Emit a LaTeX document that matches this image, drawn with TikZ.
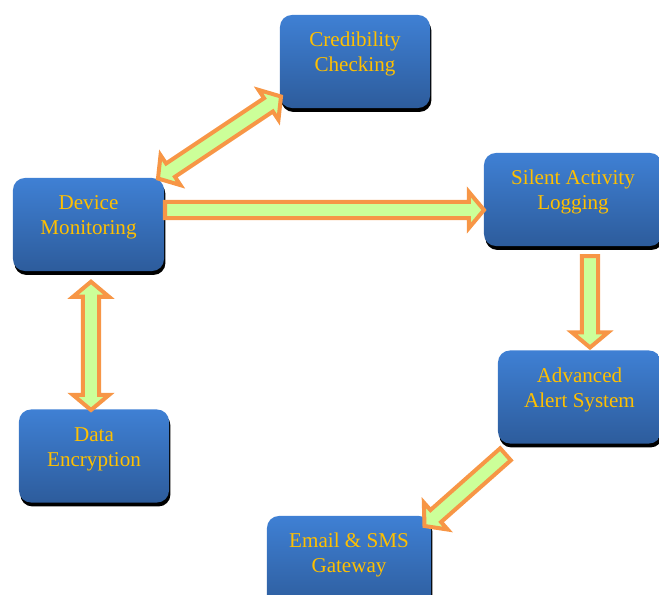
\documentclass[tikz,border=0pt]{standalone}
\usepackage{fontspec}
\setmainfont{Liberation Serif}
\usepackage{xcolor}
\usetikzlibrary{calc, shadows}

\definecolor{boxtop}{HTML}{3F80D4}
\definecolor{boxbot}{HTML}{2D5C9C}
\definecolor{txtgold}{HTML}{FFC000}
\definecolor{arrorange}{HTML}{F79646}
\definecolor{arrgreen}{HTML}{CCFF99}

% block arrow, one head (from #1 to #2)
\newcommand{\fatarrow}[2]{%
  \coordinate (hb) at ($(#2)!10.7pt!(#1)$);
  \draw[fatarr] ($(#1)!5.7pt!90:(#2)$) -- ($(hb)!5.7pt!90:(#2)$) -- ($(hb)!12.8pt!90:(#2)$)
    -- (#2) -- ($(hb)!12.8pt!-90:(#2)$) -- ($(hb)!5.7pt!-90:(#2)$) -- ($(#1)!5.7pt!-90:(#2)$) -- cycle;}
% block arrow, two heads
\newcommand{\fatdarrow}[2]{%
  \coordinate (ha) at ($(#1)!10.7pt!(#2)$);
  \coordinate (hb) at ($(#2)!10.7pt!(#1)$);
  \draw[fatarr] (#1) -- ($(ha)!12.8pt!90:(#2)$) -- ($(ha)!5.7pt!90:(#2)$) -- ($(hb)!5.7pt!90:(#2)$)
    -- ($(hb)!12.8pt!90:(#2)$) -- (#2) -- ($(hb)!12.8pt!-90:(#2)$) -- ($(hb)!5.7pt!-90:(#2)$)
    -- ($(ha)!5.7pt!-90:(#2)$) -- ($(ha)!12.8pt!-90:(#2)$) -- cycle;}

\begin{document}
\begin{tikzpicture}[
  x=0.025cm, y=-0.025cm,
  box/.style={rounded corners=8.5pt, minimum height=2.325cm, top color=boxtop, bottom color=boxbot,
              drop shadow={shadow xshift=1pt, shadow yshift=-2.8pt, fill=black, opacity=1},
              text=txtgold, align=center, font=\fontsize{15pt}{17.8pt}\selectfont,
              text height=25pt, text depth=10.1pt},
  fatarr/.style={draw=arrorange, fill=arrgreen, line width=2.85pt, line join=miter},
]
  \useasboundingbox (0,0) rectangle (659,594);
  % Boxes
  \node[box, minimum width=3.75cm]  (cred)  at (355,61.5)  {Credibility\\Checking};
  \node[box, minimum width=3.775cm] (dev)   at (88.5,224.5) {Device\\Monitoring};
  \node[box, minimum width=4.45cm]  (sil)   at (573,199.5) {Silent Activity\\Logging};
  \node[box, minimum width=4.075cm] (adv)   at (579.5,397) {Advanced\\Alert System};
  \node[box, minimum width=3.75cm]  (data)  at (94,456)    {Data\\Encryption};
  \node[box, minimum width=4.1cm]   (email) at (349,562.5) {Email \& SMS\\Gateway};
  % Arrow ends
  \coordinate (devne)  at (158,178.5);
  \coordinate (credsw) at (281,96.5);
  \coordinate (deve)   at (165,210);
  \coordinate (silw)   at (484,210);
  \coordinate (sils)   at (590,256);
  \coordinate (advn)   at (590,347.5);
  \coordinate (advsw)  at (505.5,454.3);
  \coordinate (emailne) at (424.5,526);
  \coordinate (devs)   at (91,281.7);
  \coordinate (datan)  at (91,410);
  % Arrows
  \fatdarrow{devne}{credsw}
  \fatarrow{deve}{silw}
  \fatarrow{sils}{advn}
  \fatarrow{advsw}{emailne}
  \fatdarrow{devs}{datan}
\end{tikzpicture}
\end{document}
